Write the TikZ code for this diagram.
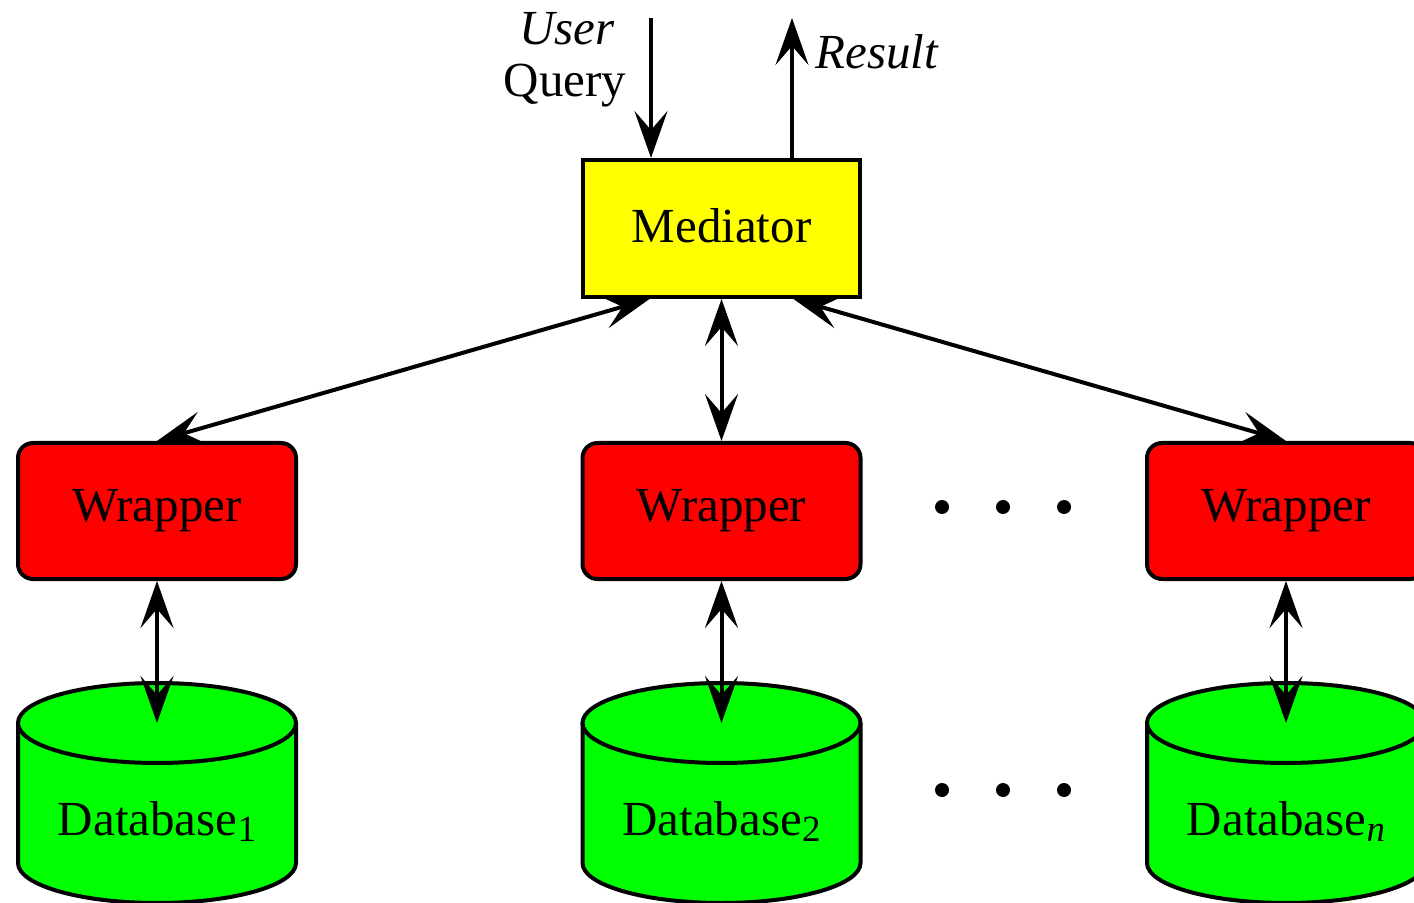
\documentclass[tikz,border=0pt]{standalone}
\usepackage{fontspec}
\setmainfont{Liberation Serif}
\usetikzlibrary{arrows.meta}
\definecolor{myyellow}{RGB}{255,255,0}
\definecolor{myred}{RGB}{255,0,0}
\definecolor{mygreen}{RGB}{0,255,0}
\tikzset{
  tip/.tip={Stealth[length=23.5pt,width=16.5pt,inset=9.5pt]},
  conn/.style={line width=2pt,-tip},
  biconn/.style={line width=2pt,tip-tip},
  medbox/.style={draw,line width=2pt,fill=myyellow,minimum width=138.5pt,minimum height=68.5pt,inner sep=0pt},
  wrapbox/.style={draw,line width=2pt,fill=myred,rounded corners=7.5pt,minimum width=139pt,minimum height=68pt,inner sep=0pt},
  dbshape/.style={line width=2pt,fill=mygreen},
  lbl/.style={inner sep=0pt},
  dot/.style={fill=black,circle,inner sep=0pt,minimum size=7pt}
}
\newcommand{\mysub}[1]{\raisebox{-3pt}{\fontsize{18.5}{18.5}\selectfont #1}}
\newcommand{\mydb}[3]{%
  % #1 center x, #2 name, #3 label
  \fill[mygreen] (#1-139,723) -- (#1-139,863) arc[start angle=180,end angle=360,x radius=69.5pt,y radius=20pt] -- (#1+139,723) arc[start angle=0,end angle=180,x radius=69.5pt,y radius=20pt] -- cycle;
  \draw[line width=2pt] (#1-139,723) -- (#1-139,863) arc[start angle=180,end angle=360,x radius=69.5pt,y radius=20pt] -- (#1+139,723);
  \draw[dbshape] (#1,723) ellipse[x radius=69.5pt,y radius=20pt];
  \coordinate (#2) at (#1,723);
  \node[lbl,anchor=base] (#2lbl) at (#1,835) {#3};
}
\begin{document}
\begin{tikzpicture}[x=0.5pt,y=-0.5pt]
\fontsize{24.5}{26}\selectfont
\clip (0,0) rectangle (1414,903);
\fill[white] (0,0) rectangle (1414,903);

\node[medbox] (med) at (721.5,228.5) {\raisebox{3pt}{Mediator}};
\node[wrapbox] (w1) at (157,511) {Wrapper};
\node[wrapbox] (w2) at (721.5,511) {Wrapper};
\node[wrapbox] (w3) at (1286,511) {Wrapper};

\mydb{157}{db1}{Database\mysub{1}}
\mydb{721.5}{db2}{Database\mysub{2}}
\mydb{1286}{db3}{Database\mysub{\textit{n}}}

% top arrows
\coordinate (qin) at (651,18);
\coordinate (rout) at (792,18);
\draw[conn] (qin) -- (med.north -| qin);
\draw[conn] (med.north -| rout) -- (rout);
\node[lbl,anchor=base] (user) at (567,45) {\textit{User}};
\node[lbl,anchor=base] (query) at (565,97) {Query};
\node[lbl,anchor=base west] (res) at (815,69) {\textit{Result}};

% mediator to wrappers
\draw[biconn] ([xshift=-36pt]med.south) -- (w1.north);
\draw[biconn] (med.south) -- (w2.north);
\draw[biconn] ([xshift=36pt]med.south) -- (w3.north);

% wrappers to databases
\draw[biconn] (w1.south) -- (db1);
\draw[biconn] (w2.south) -- (db2);
\draw[biconn] (w3.south) -- (db3);

% ellipsis dots
\node[dot] (d1) at (942,507) {};
\node[dot] (d2) at (1003,507) {};
\node[dot] (d3) at (1064,507) {};
\node[dot] (d4) at (942,790) {};
\node[dot] (d5) at (1003,790) {};
\node[dot] (d6) at (1064,790) {};
\end{tikzpicture}
\end{document}
